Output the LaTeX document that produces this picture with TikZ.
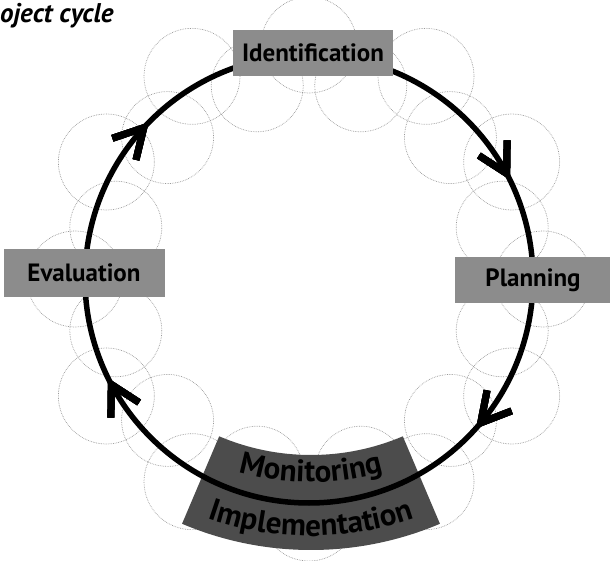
\documentclass[tikz,border=0pt]{standalone}
\usepackage{fontspec}
\setmainfont{PT Sans}
\usetikzlibrary{decorations.markings,decorations.text}

\tikzset{
stage/.style={fill=black!45, inner sep=0pt, font=\fontsize{25}{28}\selectfont\bfseries},
cloud/.style={draw=black!40, densely dotted, line width=0.7pt},
cycleline/.style={line width=5.5pt},
barb/.style={decoration={markings, mark=at position #1 with
  {\draw[line width=7pt, line join=miter] (-29pt,16pt) -- (0,0) -- (-29pt,-16pt);}}, postaction={decorate}}
}
\newcommand{\bandfont}{\fontsize{31}{34}\selectfont\bfseries}

\begin{document}
\begin{tikzpicture}[x=1pt,y=1pt]
\useasboundingbox (0,0) rectangle (610,560);
\coordinate (c) at (309,281);
\coordinate (bc) at (311,340);

% faint ring of circles
\foreach \a in {0,30,...,330} {
  \draw[cloud] (c) ++(\a:234) circle[radius=48];
  \draw[cloud] (c) ++(\a+15:200) circle[radius=46];
}

% curved band at the bottom
\fill[black!70] (bc) ++(247:235) arc[start angle=247, end angle=293, radius=235]
  -- ++(293:95) arc[start angle=293, end angle=247, radius=330] -- cycle;
\path[decorate, decoration={text along path, text align=center,
  text={|\bandfont|Monitoring}}]
  (bc) ++(220:262) arc[start angle=220, end angle=320, radius=262];
\path[decorate, decoration={text along path, text align=center,
  text={|\bandfont|Implementation}}]
  (bc) ++(220:316) arc[start angle=220, end angle=320, radius=316];

% the cycle, clockwise
\draw[cycleline, barb=0.111, barb=0.422, barb=0.618, barb=0.922]
  (c) ++(0:224) arc[start angle=360, end angle=0, radius=224];

\node[stage, minimum width=160, minimum height=46] (ident) at (313,507) {Identification};
\node[stage, minimum width=156, minimum height=46] (plan) at (533,280) {Planning};
\node[stage, minimum width=161, minimum height=48] (evalu) at (84,287) {Evaluation};

\node[anchor=west, inner sep=0pt, font=\fontsize{27}{30}\selectfont\bfseries\itshape] (title) at (0,544) {oject cycle};
\end{tikzpicture}
\end{document}
